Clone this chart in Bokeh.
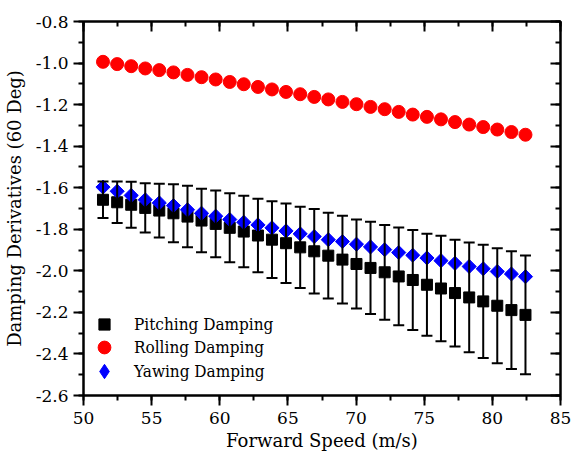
import numpy as np
from bokeh.plotting import figure
from bokeh.models import (ColumnDataSource, Range1d, LinearAxis, SingleIntervalTicker,
                          NumeralTickFormatter, CustomJSTickFormatter, Whisker, TeeHead,
                          Legend, LegendItem)
from bokeh.embed import file_html
from bokeh.resources import INLINE

speed = [51.43, 52.47, 53.50, 54.53, 55.56, 56.60, 57.63, 58.66, 59.70, 60.73,
         61.76, 62.80, 63.83, 64.86, 65.90, 66.93, 67.96, 69.00, 70.03, 71.06,
         72.10, 73.13, 74.16, 75.20, 76.23, 77.26, 78.30, 79.33, 80.36, 81.40, 82.43]

rolling = [-0.994, -1.005, -1.015, -1.026, -1.034, -1.045, -1.057, -1.068, -1.079, -1.091,
           -1.102, -1.115, -1.127, -1.139, -1.150, -1.163, -1.175, -1.187, -1.198, -1.211,
           -1.222, -1.235, -1.248, -1.259, -1.271, -1.284, -1.296, -1.308, -1.320, -1.332, -1.345]

yawing = [-1.597, -1.617, -1.637, -1.658, -1.673, -1.686, -1.706, -1.723, -1.737, -1.753,
          -1.766, -1.779, -1.793, -1.808, -1.822, -1.835, -1.850, -1.859, -1.872, -1.885,
          -1.898, -1.912, -1.925, -1.938, -1.951, -1.964, -1.979, -1.990, -2.003, -2.015, -2.028]

pitching = [-1.658, -1.670, -1.682, -1.697, -1.710, -1.723, -1.739, -1.758, -1.774, -1.793,
            -1.811, -1.830, -1.850, -1.867, -1.887, -1.906, -1.927, -1.946, -1.967, -1.986,
            -2.007, -2.027, -2.044, -2.067, -2.085, -2.107, -2.128, -2.147, -2.168, -2.189, -2.212]

pitching_err = [0.088, 0.100, 0.111, 0.119, 0.129, 0.140, 0.148, 0.153, 0.161, 0.166,
                0.172, 0.177, 0.185, 0.191, 0.196, 0.203, 0.206, 0.211, 0.214, 0.222,
                0.228, 0.235, 0.241, 0.246, 0.254, 0.257, 0.264, 0.272, 0.277, 0.283, 0.286]

labels = ["Pitching Damping", "Rolling Damping", "Yawing Damping"]

FONT = "DejaVu Serif"
FONT_LEG = "DejaVu Serif Condensed"

p = figure(width=571, height=462, output_backend="svg", toolbar_location=None,
           x_range=Range1d(50, 85), y_range=Range1d(-2.6, -0.8),
           x_axis_type=None, y_axis_type=None,
           min_border_left=81, min_border_right=11, min_border_top=21, min_border_bottom=67)
p.grid.visible = False
p.outline_line_color = "black"
p.outline_line_width = 2
p.background_fill_color = "white"
p.border_fill_color = "white"

def make_axis(interval, labelled, inward):
    ax = LinearAxis(ticker=SingleIntervalTicker(interval=interval, num_minor_ticks=2))
    ax.axis_line_width = 2
    ax.major_tick_line_width = 2
    ax.minor_tick_line_width = 2
    if inward:
        ax.major_tick_in, ax.major_tick_out = 10, 0
        ax.minor_tick_in, ax.minor_tick_out = 5, 0
    else:
        ax.major_tick_in, ax.major_tick_out = 0, 10
        ax.minor_tick_in, ax.minor_tick_out = 0, 5
    if labelled:
        ax.major_label_text_font = FONT
        ax.major_label_text_font_size = "17px"
        ax.major_label_text_color = "black"
        ax.axis_label_text_font = FONT
        ax.axis_label_text_font_size = "18px"
        ax.axis_label_text_font_style = "normal"
        ax.axis_label_text_color = "black"
    else:
        ax.formatter = CustomJSTickFormatter(code="return ''")
        ax.major_label_text_font_size = "1px"
        ax.major_label_standoff = 0
    return ax

xb = make_axis(5, True, False)
xb.axis_label = "Forward Speed (m/s)"
xb.major_label_standoff = 6
xb.axis_label_standoff = 3
p.add_layout(xb, "below")

yl = make_axis(0.2, True, False)
yl.axis_label = "Damping Derivatives (60 Deg)"
yl.formatter = NumeralTickFormatter(format="0.0")
yl.major_label_standoff = 5
yl.axis_label_standoff = 8
p.add_layout(yl, "left")

p.add_layout(make_axis(5, False, True), "above")
p.add_layout(make_axis(0.2, False, True), "right")

src = ColumnDataSource(dict(x=speed, roll=rolling, yaw=yawing, pitch=pitching,
                            lower=[v - e for v, e in zip(pitching, pitching_err)],
                            upper=[v + e for v, e in zip(pitching, pitching_err)]))

wh = Whisker(source=src, base="x", lower="lower", upper="upper", dimension="height",
             line_color="black", line_width=2, level="glyph",
             upper_head=TeeHead(size=11, line_width=2, line_color="black"),
             lower_head=TeeHead(size=11, line_width=2, line_color="black"))
p.add_layout(wh)

r_p = p.scatter("x", "pitch", source=src, marker="square", size=11,
                fill_color="black", line_color="black")
r_r = p.scatter("x", "roll", source=src, marker="circle", size=13,
                fill_color="#ff0000", line_color="#ff0000")
r_y = p.scatter("x", "yaw", source=src, marker="square", size=10, angle=np.pi / 4,
                fill_color="#0000ff", line_color="#0000ff")
# legend stand-in for the rotated-square (diamond) marker, kept off the data area
r_y_leg = p.scatter(x=[float("nan")], y=[float("nan")], marker="diamond", size=14,
                    fill_color="#0000ff", line_color="#0000ff")

# one legend box per entry so each glyph can be drawn larger than the row pitch
for lab, rend, gsize, ypos in [(labels[0], r_p, 28, 55), (labels[1], r_r, 32, 32),
                               (labels[2], r_y_leg, 36, 8)]:
    off = (32 - gsize) // 2
    lg = Legend(items=[LegendItem(label=lab, renderers=[rend])],
                location=(5 + off, ypos + off),
                orientation="vertical",
                label_text_font=FONT_LEG, label_text_font_size="17px", label_text_color="black",
                glyph_width=gsize, glyph_height=gsize, label_height=20, spacing=0,
                label_standoff=int(14 + off), padding=5, margin=0,
                border_line_color=None, background_fill_alpha=0)
    p.add_layout(lg, "center")

open("out.html", "w").write(file_html(p, INLINE))
